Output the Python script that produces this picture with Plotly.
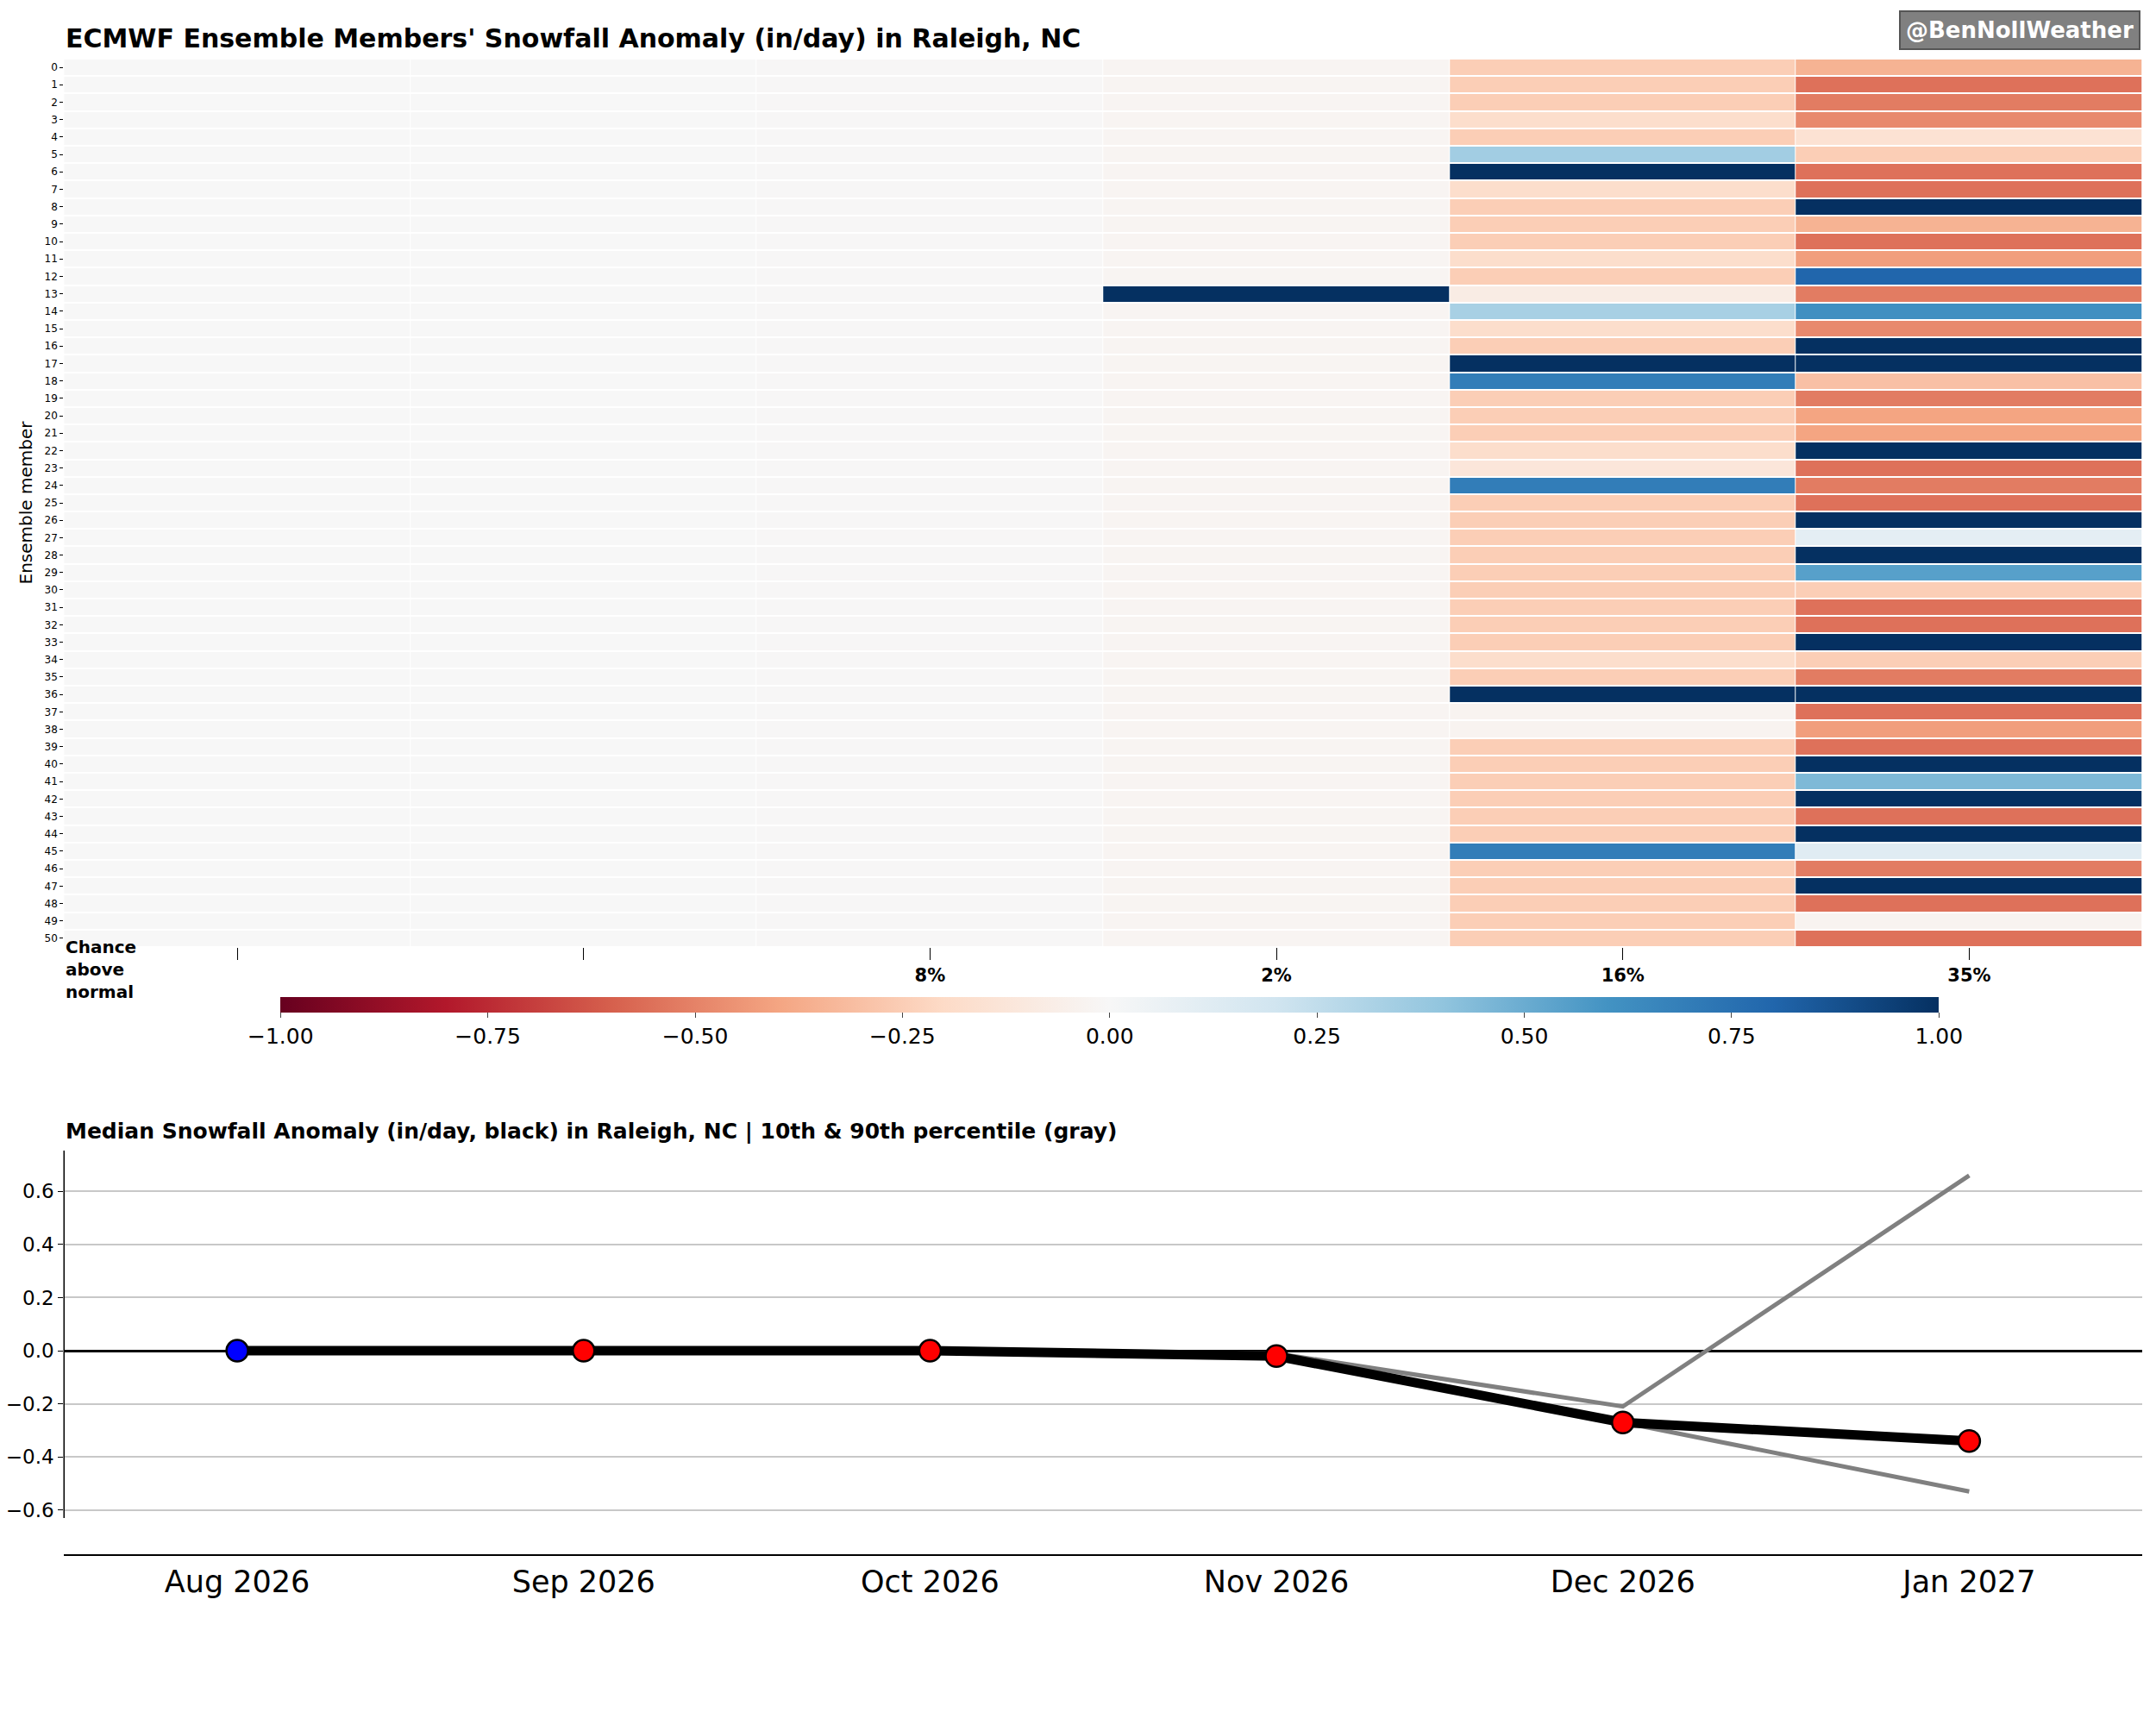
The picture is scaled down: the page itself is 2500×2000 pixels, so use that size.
import plotly.graph_objects as go

months = ["Aug 2026", "Sep 2026", "Oct 2026", "Nov 2026", "Dec 2026", "Jan 2027"]
chance = ["", "", "8%", "2%", "16%", "35%"]
members = list(range(51))

aug = [0.0] * 51
sep = [0.0] * 51
oct_ = [-0.005] * 51
nov = [-0.02] * 51
nov[13] = 1.0
dec = [-0.25, -0.25, -0.25, -0.18, -0.25, 0.35, 1.0, -0.18, -0.25, -0.25,
       -0.25, -0.18, -0.25, -0.08, 0.33, -0.18, -0.25, 1.0, 0.7, -0.25,
       -0.25, -0.25, -0.18, -0.12, 0.7, -0.25, -0.25, -0.25, -0.25, -0.25,
       -0.25, -0.25, -0.25, -0.25, -0.18, -0.25, 1.0, -0.03, -0.03, -0.25,
       -0.25, -0.25, -0.25, -0.25, -0.25, 0.7, -0.25, -0.25, -0.25, -0.25,
       -0.25]
jan = [-0.35, -0.55, -0.52, -0.48, -0.15, -0.25, -0.55, -0.55, 1.0, -0.35,
       -0.55, -0.42, 0.8, -0.52, 0.62, -0.48, 1.0, 1.0, -0.3, -0.52,
       -0.4, -0.4, 1.0, -0.55, -0.52, -0.55, 1.0, 0.1, 1.0, 0.55,
       -0.25, -0.55, -0.55, 1.0, -0.25, -0.52, 1.0, -0.55, -0.42, -0.55,
       1.0, 0.45, 1.0, -0.55, 1.0, 0.12, -0.52, 1.0, -0.55, -0.03,
       -0.55]

median = [0.0, 0.0, 0.0, -0.02, -0.27, -0.34]
p10 = [0.0, 0.0, 0.0, -0.02, -0.27, -0.53]
p90 = [0.0, 0.0, 0.0, -0.01, -0.21, 0.66]
marker_colors = ["blue", "red", "red", "red", "red", "red"]

rdbu = ["#67001f", "#b2182b", "#d6604d", "#f4a582", "#fddbc7", "#f7f7f7",
        "#d1e5f0", "#92c5de", "#4393c3", "#2166ac", "#053061"]
cscale = [[i / 10, c] for i, c in enumerate(rdbu)]

cols = [aug, sep, oct_, nov, dec, jan]
z = [[cols[j][i] for j in range(6)] for i in members]
xi = list(range(6))

X0, X1 = 0.0265, 0.9905

fig = go.Figure()
fig.add_trace(go.Heatmap(
    z=z, x=xi, y=members, colorscale=cscale, zmin=-1, zmax=1,
    xgap=1, ygap=2,
    colorbar=dict(orientation="h", x=0.5115, xanchor="center", len=0.777,
                  y=0.431, yanchor="top", thickness=18,
                  tickvals=[-1, -0.75, -0.5, -0.25, 0, 0.25, 0.5, 0.75, 1],
                  tickformat=".2f", ticks="outside", ticklen=6,
                  tickfont=dict(size=25, color="black"), outlinewidth=0),
    xaxis="x", yaxis="y"))

fig.add_trace(go.Scatter(x=xi, y=p90, mode="lines", line=dict(color="gray", width=5),
                         xaxis="x2", yaxis="y2", showlegend=False))
fig.add_trace(go.Scatter(x=xi, y=p10, mode="lines", line=dict(color="gray", width=5),
                         xaxis="x2", yaxis="y2", showlegend=False))
fig.add_trace(go.Scatter(x=xi, y=median, mode="lines+markers",
                         line=dict(color="black", width=11),
                         marker=dict(size=25, color=marker_colors,
                                     line=dict(color="black", width=2.5)),
                         xaxis="x2", yaxis="y2", showlegend=False))

fig.update_layout(
    width=2500, height=2000, paper_bgcolor="white", plot_bgcolor="white",
    margin=dict(l=0, r=0, t=0, b=0, autoexpand=False), showlegend=False,
    font=dict(family="DejaVu Sans", color="black"),
    xaxis=dict(domain=[X0, X1], range=[-0.5, 5.5], tickvals=xi,
               ticktext=["<b>%s</b>" % c for c in chance],
               ticks="outside", ticklen=14, tickcolor="black", showgrid=False,
               zeroline=False, showline=False, tickfont=dict(size=21),
               anchor="y"),
    yaxis=dict(domain=[0.455, 0.970], range=[50.5, -0.5], tickvals=members,
               ticktext=[str(m) for m in members], ticks="outside", ticklen=4,
               tickcolor="black", tickfont=dict(size=12), showgrid=False,
               zeroline=False, showline=False, anchor="x",
               title=dict(text="Ensemble member", font=dict(size=20), standoff=8)),
    xaxis2=dict(domain=[X0, X1], range=[-0.5, 5.5], tickvals=xi, ticktext=months,
                ticks="", showgrid=False, zeroline=False, showline=True,
                linecolor="black", linewidth=1.5, tickfont=dict(size=35),
                anchor="y2"),
    yaxis2=dict(domain=[0.103, 0.338], range=[-0.766, 0.76],
                tickvals=[-0.6, -0.4, -0.2, 0, 0.2, 0.4, 0.6], tickformat=".1f",
                ticks="outside", ticklen=6, tickcolor="black",
                showgrid=True, gridcolor="#c8c8c8", gridwidth=1.5,
                zeroline=True, zerolinecolor="black", zerolinewidth=3,
                showline=False, tickfont=dict(size=23), anchor="x2"),
    shapes=[dict(type="line", xref="paper", yref="paper", x0=X0, x1=X0,
                 y0=0.124, y1=0.337, line=dict(color="black", width=1.5))],
    annotations=[
        dict(text="<b>ECMWF Ensemble Members' Snowfall Anomaly (in/day) in Raleigh, NC</b>",
             xref="paper", yref="paper", x=X0, y=0.972, xanchor="left", yanchor="bottom",
             showarrow=False, font=dict(size=30)),
        dict(text="<b>@BenNollWeather</b>", xref="paper", yref="paper", x=0.9895, y=0.975,
             xanchor="right", yanchor="bottom", showarrow=False, font=dict(size=26, color="white"),
             bgcolor="#808080", bordercolor="#555555", borderwidth=2, borderpad=6),
        dict(text="<b>Chance<br>above<br>normal</b>", xref="paper", yref="paper", x=X0,
             y=0.462, xanchor="left", yanchor="top", align="left", showarrow=False,
             font=dict(size=20)),
        dict(text="<b>Median Snowfall Anomaly (in/day, black) in Raleigh, NC | 10th & 90th percentile (gray)</b>",
             xref="paper", yref="paper", x=X0, y=0.340, xanchor="left", yanchor="bottom",
             showarrow=False, font=dict(size=25)),
    ],
)

fig.write_html("out.html")
